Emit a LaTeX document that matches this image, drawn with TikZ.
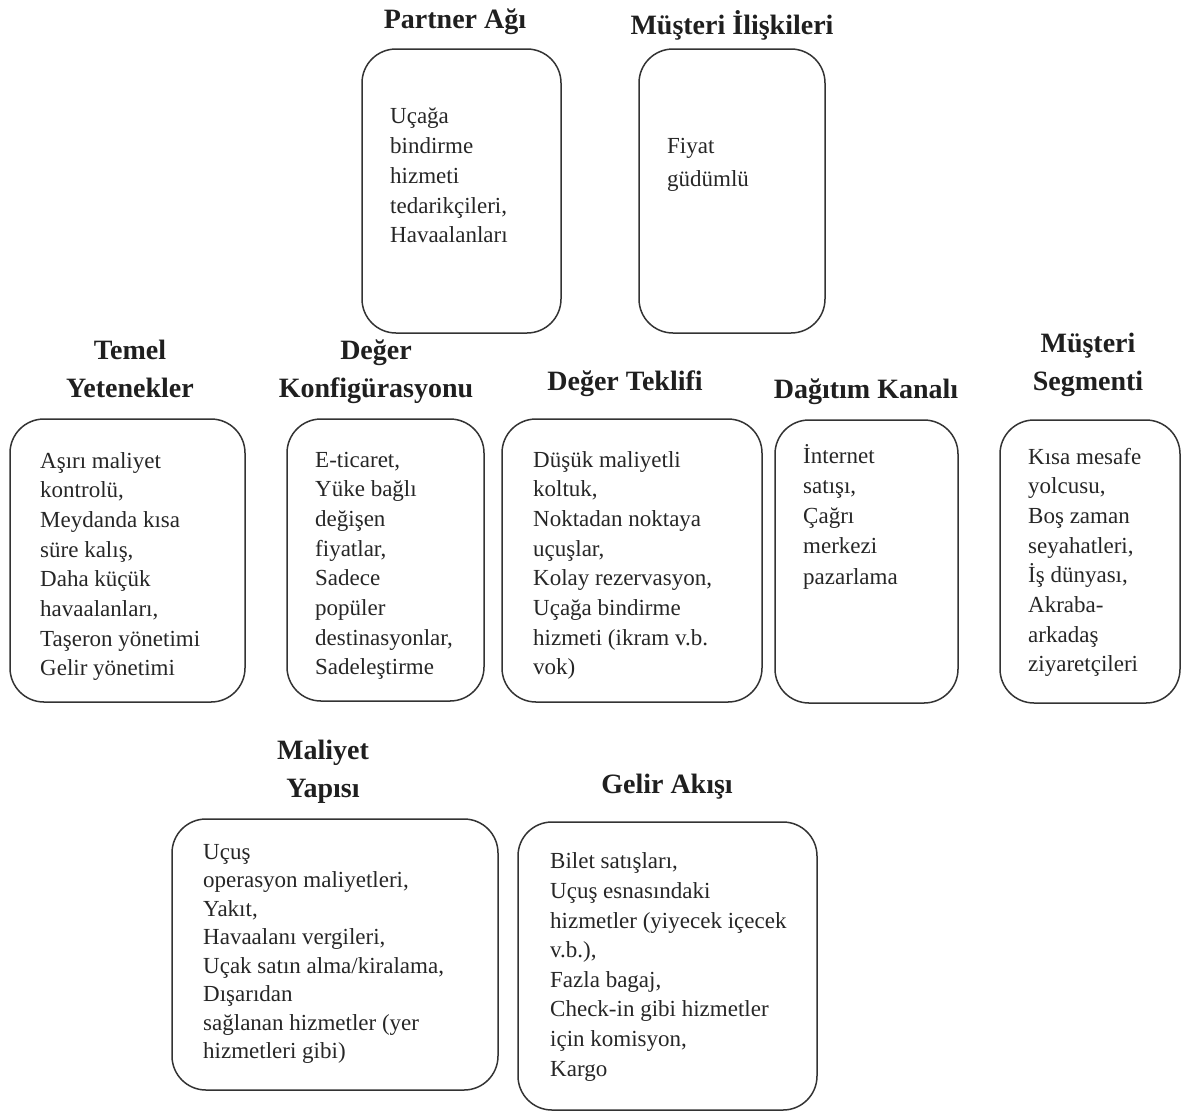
\documentclass[tikz,border=0pt]{standalone}
\usepackage{fontspec}
\setmainfont{Liberation Serif}
\begin{document}
\begin{tikzpicture}[x=1pt,y=-1pt,
  box/.style={draw=black!80, line width=1.5pt, rounded corners=34pt, inner sep=0pt},
  ttl/.style={font=\fontsize{28}{38}\selectfont\bfseries, text=black!88, align=center, inner sep=0pt},
  body/.style={font=\fontsize{23}{29.7}\selectfont, text=black!85, align=left, anchor=north west, inner sep=0pt}]
\useasboundingbox (0,0) rectangle (1183,1117);
% boxes
\node[box, minimum width=199pt, minimum height=284pt] (partnerBox) at (461.5,191) {};
\node[box, minimum width=186pt, minimum height=284pt] (iliskiBox) at (732,191) {};
\node[box, minimum width=235pt, minimum height=283pt] (temelBox) at (127.5,560.5) {};
\node[box, minimum width=197pt, minimum height=282pt] (konfigBox) at (385.5,560) {};
\node[box, minimum width=260pt, minimum height=283pt] (teklifBox) at (632,560.5) {};
\node[box, minimum width=183pt, minimum height=283pt] (kanalBox) at (866.5,561.5) {};
\node[box, minimum width=180pt, minimum height=283pt] (segmentBox) at (1090,561.5) {};
\node[box, minimum width=326pt, minimum height=271pt] (maliyetBox) at (335,954.5) {};
\node[box, minimum width=299pt, minimum height=288pt] (gelirBox) at (667.5,966) {};
% titles
\node[ttl] (partnerT) at (455,22) {Partner Ağı};
\node[ttl] (iliskiT) at (732,25) {Müşteri İlişkileri};
\node[ttl] (temelT) at (130,369) {Temel\\Yetenekler};
\node[ttl] (konfigT) at (376,372) {Değer\\Konfigürasyonu};
\node[ttl] (teklifT) at (625,384) {Değer Teklifi};
\node[ttl] (kanalT) at (866,392) {Dağıtım Kanalı};
\node[ttl] (segmentT) at (1088,365) {Müşteri\\Segmenti};
\node[ttl] (maliyetT) at (323,772) {Maliyet\\Yapısı};
\node[ttl] (gelirT) at (667,787) {Gelir Akışı};
% texts
\node[body] (partnerX) at (390,103) {\strut Uçağa\\bindirme\\hizmeti\\tedarikçileri,\\Havaalanları};
\node[body, font=\fontsize{23}{32.5}\selectfont] (iliskiX) at (667,131) {\strut Fiyat\\güdümlü};
\node[body] (temelX) at (40,447) {\strut Aşırı maliyet\\kontrolü,\\Meydanda kısa\\süre kalış,\\Daha küçük\\havaalanları,\\Taşeron yönetimi\\Gelir yönetimi};
\node[body] (konfigX) at (315,446) {\strut E-ticaret,\\Yüke bağlı\\değişen\\fiyatlar,\\Sadece\\popüler\\destinasyonlar,\\Sadeleştirme};
\node[body] (teklifX) at (533,446) {\strut Düşük maliyetli\\koltuk,\\Noktadan noktaya\\uçuşlar,\\Kolay rezervasyon,\\Uçağa bindirme\\hizmeti (ikram v.b.\\vok)};
\node[body, font=\fontsize{23}{30.2}\selectfont] (kanalX) at (803,442) {\strut İnternet\\satışı,\\Çağrı\\merkezi\\pazarlama};
\node[body] (segmentX) at (1028,443) {\strut Kısa mesafe\\yolcusu,\\Boş zaman\\seyahatleri,\\İş dünyası,\\Akraba-\\arkadaş\\ziyaretçileri};
\node[body, font=\fontsize{23}{28.5}\selectfont] (maliyetX) at (203,839) {\strut Uçuş\\operasyon maliyetleri,\\Yakıt,\\Havaalanı vergileri,\\Uçak satın alma/kiralama,\\Dışarıdan\\sağlanan hizmetler (yer\\hizmetleri gibi)};
\node[body, font=\fontsize{23}{29.6}\selectfont] (gelirX) at (550,848) {\strut Bilet satışları,\\Uçuş esnasındaki\\hizmetler (yiyecek içecek\\v.b.),\\Fazla bagaj,\\Check-in gibi hizmetler\\için komisyon,\\Kargo};
\end{tikzpicture}
\end{document}
